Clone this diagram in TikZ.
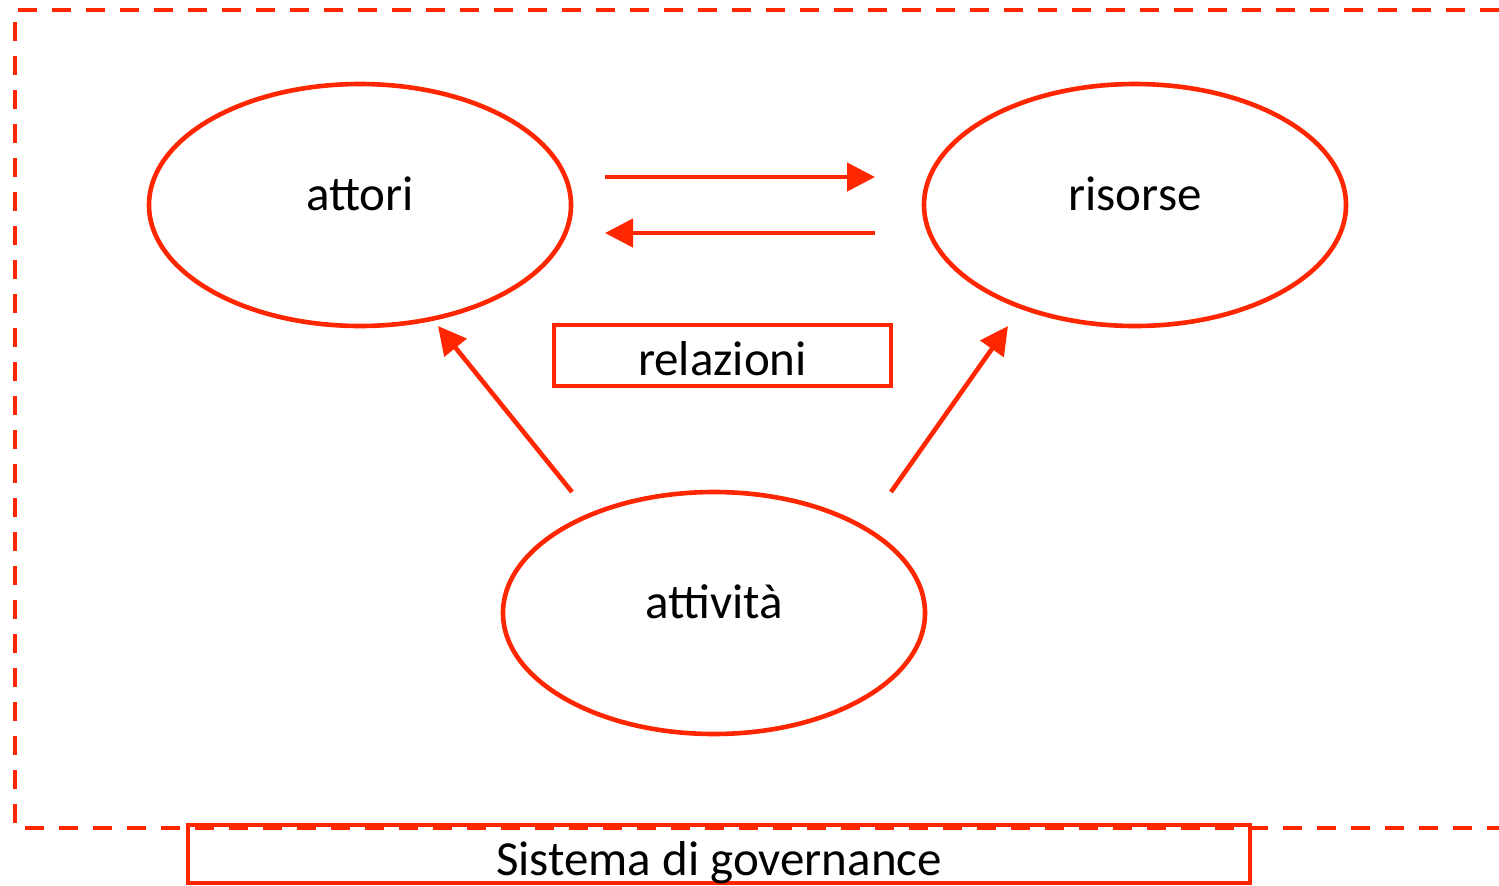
\documentclass[tikz,border=0pt]{standalone}
\usepackage{fontspec}
\setmainfont{Carlito}
\usetikzlibrary{shapes.geometric,arrows.meta}
\definecolor{rosso}{RGB}{255,38,0}

\begin{document}
\begin{tikzpicture}[x=0.5pt,y=-0.5pt,
  ovale/.style={ellipse,draw=rosso,line width=2.3pt,minimum width=211pt,minimum height=121pt,inner sep=0pt,font=\fontsize{24.5}{29}\selectfont,text height=18pt,text depth=13pt},
  riquadro/.style={rectangle,draw=rosso,line width=2.3pt,inner sep=0pt,font=\fontsize{24.5}{29}\selectfont},
  freccia/.style={draw=rosso,line width=2.3pt,-{Triangle[length=14pt,width=14pt]}}]
\useasboundingbox (0,0) rectangle (1499,885);

% cornice tratteggiata
\draw[rosso,line width=2.3pt,dash pattern=on 9.5pt off 7.5pt] (1499,10) -- (15,10) -- (15,828) -- (1499,828);

\node[ovale] (attori) at (360,205) {attori};
\node[ovale] (risorse) at (1135,205) {risorse};
\node[ovale] (attivita) at (714,613) {attività};

\node[riquadro,minimum width=168.5pt,minimum height=30.5pt,text height=25pt,text depth=5.5pt] (relazioni) at (722.5,355.5) {relazioni};
\node[riquadro,minimum width=531pt,minimum height=29pt,text height=25pt,text depth=4pt] (sistema) at (719,854) {Sistema di governance};

\coordinate (a1) at (605,177);
\coordinate (r1) at (875,177);
\coordinate (r2) at (875,233);
\coordinate (a2) at (605,233);
\coordinate (t1) at (572,492);
\coordinate (t2) at (891,492);
\coordinate (ab) at (438,326);
\coordinate (rb) at (1008,326);

\draw[freccia] (a1) -- (r1);
\draw[freccia] (r2) -- (a2);
\draw[freccia] (t1) -- (ab);
\draw[freccia] (t2) -- (rb);
\end{tikzpicture}
\end{document}
